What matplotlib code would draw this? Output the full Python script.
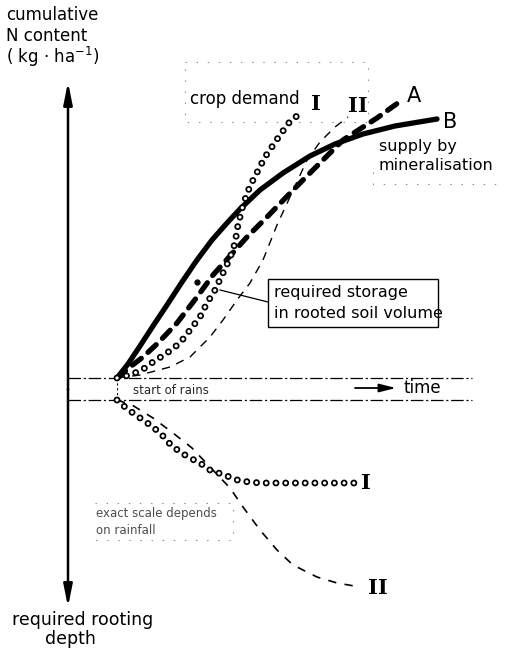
import matplotlib
matplotlib.use('Agg')
import matplotlib.pyplot as plt
from matplotlib.patches import Rectangle

# schematic, in picture pixels (x right, y down)
ORIGIN = (117, 378)

# curve B: supply by mineralisation (thick solid)
B_X = [117, 128, 140, 153, 167, 182, 197, 212, 227, 240, 260, 283, 310, 335, 363, 395, 437]
B_Y = [378, 364, 346, 326, 305, 282, 260, 240, 223, 209, 190, 173, 156, 144, 134, 126, 119]

# curve A: thick dashed
A_X = [117, 130, 143, 158, 177, 197, 213, 230, 247, 267, 300, 320, 343, 377, 402]
A_Y = [378, 367, 357, 343, 323, 297, 275, 256, 237, 217, 183, 163, 140, 118, 100]

# crop demand I (circles) and II (thin dashed), upper half
I_X = [117, 130, 142, 153, 167, 180, 190, 200, 207, 215, 223, 230, 235, 238, 243, 250, 265, 280, 291, 303]
I_Y = [378, 375, 370, 362, 353, 343, 330, 317, 303, 290, 273, 258, 243, 225, 205, 186, 157, 135, 120, 112]
II_X = [117, 140, 170, 190, 210, 223, 237, 250, 263, 277, 290, 307, 320, 335, 348]
II_Y = [378, 375, 367, 357, 337, 320, 300, 283, 260, 225, 197, 160, 142, 127, 117]

# required rooting depth I and II, lower half
LI_X = [117, 125, 133, 143, 153, 163, 170, 180, 190, 200, 210, 227, 240, 260, 300, 357]
LI_Y = [400, 407, 413, 420, 427, 436, 444, 452, 458, 463, 470, 476, 481, 483, 483, 483]
LII_X = [117, 132, 153, 173, 192, 210, 230, 243, 260, 277, 293, 317, 337, 360]
LII_Y = [400, 405, 418, 433, 448, 467, 488, 507, 530, 550, 565, 577, 583, 587]

plt.rcParams['font.family'] = 'DejaVu Sans'
plt.rcParams['lines.scale_dashes'] = False

fig = plt.figure(figsize=(5.07, 6.51), dpi=100)
ax = fig.add_axes([0, 0, 1, 1])
ax.set_xlim(0, 507)
ax.set_ylim(651, 0)
ax.axis('off')


def ring_line(x, y):
    # open circles along the curve: black round dots with white centres
    ax.plot(x, y, color='k', lw=5.0, linestyle=(0, (0.01, 7.0)),
            dash_capstyle='round')
    ax.plot(x, y, color='white', lw=2.4, linestyle=(0, (0.01, 7.0)),
            dash_capstyle='round')


# vertical axis with arrows both ways
arrow = dict(arrowstyle='-|>,head_length=1.1,head_width=0.22', lw=1.8, color='k',
             shrinkA=0, shrinkB=0, mutation_scale=12)
ax.annotate('', xy=(68, 82), xytext=(68, 390), arrowprops=arrow)
ax.annotate('', xy=(68, 607), xytext=(68, 389), arrowprops=arrow)

# time band
for yy in (378, 400):
    ax.plot([68, 472], [yy, yy], color='k', lw=0.9, linestyle=(0, (9, 2, 1.5, 2)))
ax.plot([117, 117], [378, 402], color='k', lw=0.8, linestyle=(0, (1.5, 2)))
ax.text(133, 390, 'start of rains', fontsize=8.5, va='center', ha='left', color='0.15')
ax.annotate('', xy=(396, 388), xytext=(355, 388),
            arrowprops=dict(arrowstyle='-|>,head_length=1.0,head_width=0.25', lw=1.3,
                            color='k', shrinkA=0, shrinkB=0, mutation_scale=10))
ax.text(403, 388, 'time', fontsize=12, va='center', ha='left')

# curves
ax.plot(II_X, II_Y, color='k', lw=1.0, linestyle=(0, (6, 5)))
ax.plot(B_X, B_Y, color='k', lw=3.8, solid_capstyle='round')
ax.plot(A_X, A_Y, color='k', lw=3.8, linestyle=(0, (8, 6.5)), dash_capstyle='round')
ring_line(I_X, I_Y)
ax.plot(LII_X, LII_Y, color='k', lw=1.2, linestyle=(0, (6, 6)))
ring_line(LI_X, LI_Y)

# curve labels
serif = dict(family='DejaVu Serif', fontweight='bold', fontsize=15, va='center', ha='left')
ax.text(311, 104, 'I', **serif)
ax.text(348, 106, 'II', **serif)
ax.text(361, 483, 'I', **serif)
ax.text(368, 588, 'II', **serif)
ax.text(407, 96, 'A', fontsize=15, va='center', ha='left')
ax.text(443, 122, 'B', fontsize=15, va='center', ha='left')

# annotations
ax.text(6, 15, 'cumulative', fontsize=12, va='center')
ax.text(6, 36, 'N content', fontsize=12, va='center')
ax.text(6, 57, '( kg · ha$^{-1}$)', fontsize=12, va='center')
ax.text(83, 620, 'required rooting', fontsize=12.5, va='center', ha='center')
ax.text(70, 639, 'depth', fontsize=12.5, va='center', ha='center')

ax.text(190, 99, 'crop demand', fontsize=12, va='center', ha='left')
ax.add_patch(Rectangle((185, 62), 183, 60, fill=False, ec='0.55', lw=0.8,
                       linestyle=(0, (1, 7))))
ax.text(379, 147, 'supply by', fontsize=11.5, va='center', ha='left')
ax.text(379, 165, 'mineralisation', fontsize=11.5, va='center', ha='left')
ax.plot([373, 373, 500], [172, 184, 184], color='0.55', lw=0.8, linestyle=(0, (1, 7)))

ax.add_patch(Rectangle((268, 279), 170, 48, fill=False, ec='k', lw=1.0))
ax.text(274, 292, 'required storage', fontsize=11.5, va='center', ha='left')
ax.text(274, 313, 'in rooted soil volume', fontsize=11.5, va='center', ha='left')
ax.plot([220, 268], [290, 302], color='k', lw=0.9)
ax.plot([197], [282], marker='o', color='k', markersize=3.5)

ax.text(96, 514, 'exact scale depends', fontsize=8.5, va='center', ha='left', color='0.3')
ax.text(96, 531, 'on rainfall', fontsize=8.5, va='center', ha='left', color='0.3')
ax.plot([95, 233, 233, 95], [503, 503, 540, 540], color='0.55', lw=0.8,
        linestyle=(0, (1, 7)))

plt.savefig('out.png', dpi=100)
